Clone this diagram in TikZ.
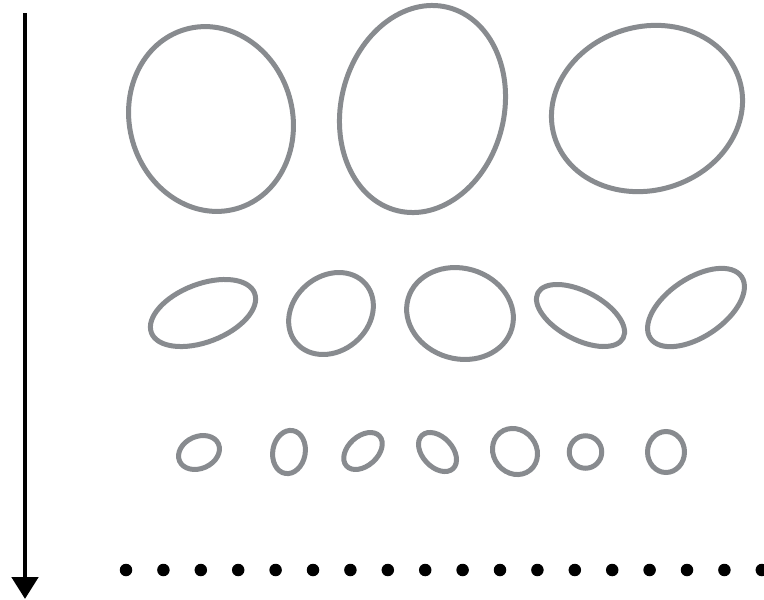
\documentclass[tikz,border=0pt]{standalone}
\usetikzlibrary{arrows.meta, shapes.geometric}
\definecolor{blobgray}{RGB}{136,139,143}

\begin{document}
\begin{tikzpicture}[
    x=0.02cm, y=0.02cm,
    blob/.style={ellipse, draw=blobgray, line width=0.1cm, inner sep=0pt},
    dot/.style={circle, fill=black, inner sep=0pt, minimum size=0.25cm},
    timeline/.style={-{Triangle[width=0.52cm, length=0.44cm]}, line width=0.1cm}
  ]
  \useasboundingbox (0,0) rectangle (764,-599);

  % Time axis
  \coordinate (start) at (25,-13);
  \coordinate (stop) at (25,-599);
  \draw[timeline] (start) -- (stop);

  % Top row
  \node[blob, minimum width=3.26cm, minimum height=3.73cm, rotate=16] (t1) at (211,-119) {};
  \node[blob, minimum width=3.26cm, minimum height=4.19cm, rotate=-14] (t2) at (422.5,-109) {};
  \node[blob, minimum width=3.87cm, minimum height=3.27cm, rotate=17] (t3) at (647,-108.5) {};

  % Middle row
  \node[blob, minimum width=2.21cm, minimum height=1.16cm, rotate=21] (m1) at (203,-313) {};
  \node[blob, minimum width=1.82cm, minimum height=1.50cm, rotate=40] (m2) at (331,-313.5) {};
  \node[blob, minimum width=2.16cm, minimum height=1.81cm, rotate=-16] (m3) at (460,-313.5) {};
  \node[blob, minimum width=1.93cm, minimum height=0.96cm, rotate=-28] (m4) at (580.5,-315.5) {};
  \node[blob, minimum width=2.20cm, minimum height=1.17cm, rotate=34] (m5) at (696,-307.5) {};

  % Bottom row
  \node[blob, minimum width=0.85cm, minimum height=0.64cm, rotate=24] (b1) at (199,-452.5) {};
  \node[blob, minimum width=0.65cm, minimum height=0.87cm, rotate=-10] (b2) at (289,-452) {};
  \node[blob, minimum width=0.89cm, minimum height=0.59cm, rotate=42] (b3) at (363,-451) {};
  \node[blob, minimum width=0.91cm, minimum height=0.60cm, rotate=-47] (b4) at (437.5,-452) {};
  \node[blob, minimum width=0.86cm, minimum height=0.96cm, rotate=39] (b5) at (515,-451.5) {};
  \node[blob, minimum width=0.65cm, minimum height=0.65cm] (b6) at (585.5,-452) {};
  \node[blob, minimum width=0.74cm, minimum height=0.82cm] (b7) at (666,-452) {};

  % Dotted continuation
  \foreach \k in {0,...,17}
    \node[dot] (d\k) at ({126+37.4*\k},-570) {};
\end{tikzpicture}
\end{document}
